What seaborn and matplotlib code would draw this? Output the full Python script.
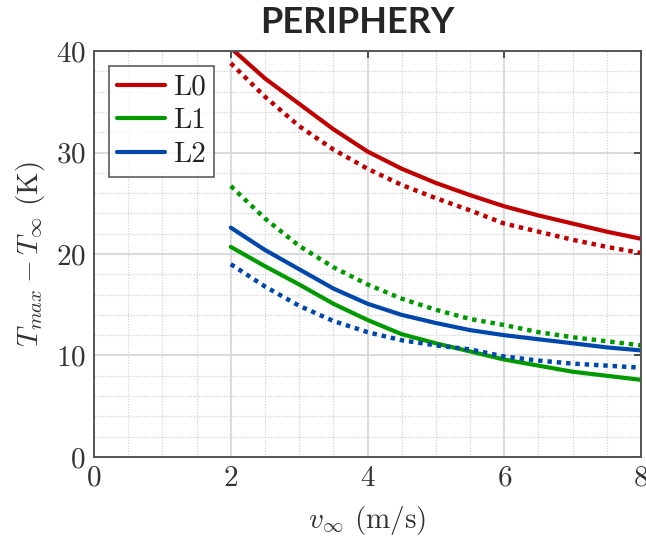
import matplotlib
matplotlib.use("Agg")
import matplotlib.pyplot as plt
from matplotlib.ticker import MultipleLocator
from matplotlib.lines import Line2D
import seaborn as sns

# air speed (m/s)
v = [2, 2.5, 3, 3.5, 4, 4.5, 5, 5.5, 6, 6.5, 7, 7.5, 8]

# T_max - T_inf (K), solid and dotted curves per level
l0_solid = [40.3, 37.3, 34.8, 32.3, 30.1, 28.4, 27.0, 25.8, 24.7, 23.8, 23.0, 22.2, 21.5]
l0_dot = [38.8, 35.5, 32.6, 30.3, 28.4, 26.8, 25.5, 24.3, 23.0, 22.2, 21.4, 20.7, 20.1]
l1_solid = [20.7, 18.8, 17.0, 15.1, 13.5, 12.1, 11.2, 10.4, 9.6, 9.0, 8.4, 8.0, 7.6]
l1_dot = [26.7, 23.5, 20.8, 18.7, 17.0, 15.6, 14.5, 13.6, 13.0, 12.3, 11.8, 11.4, 11.0]
l2_solid = [22.6, 20.4, 18.5, 16.6, 15.1, 14.0, 13.2, 12.5, 12.0, 11.6, 11.2, 10.8, 10.5]
l2_dot = [19.0, 16.8, 14.9, 13.4, 12.3, 11.5, 11.0, 10.6, 9.9, 9.5, 9.2, 9.0, 8.8]

levels = ["L0", "L1", "L2"]
colors = ["#c00000", "#009a00", "#0047ab"]

sns.set_style("white")
plt.rcParams["font.family"] = "serif"
plt.rcParams["font.serif"] = ["cmr10", "DejaVu Serif"]
plt.rcParams["mathtext.fontset"] = "cm"
plt.rcParams["axes.formatter.use_mathtext"] = True

fig = plt.figure(figsize=(6.46, 5.41), dpi=100)
ax = fig.add_axes([0.1455, 0.1553, 0.8468, 0.7504])

solids = [l0_solid, l1_solid, l2_solid]
dots = [l0_dot, l1_dot, l2_dot]
for name, col, ys, yd in zip(levels, colors, solids, dots):
    sns.lineplot(x=v, y=ys, color=col, lw=3, ax=ax)
    sns.lineplot(x=v, y=yd, color=col, lw=3.2, ax=ax,
                 linestyle=(0, (1, 1.1)))

ax.set_xlim(0, 8)
ax.set_ylim(0, 40)
ax.xaxis.set_major_locator(MultipleLocator(2))
ax.xaxis.set_minor_locator(MultipleLocator(0.5))
ax.yaxis.set_major_locator(MultipleLocator(10))
ax.yaxis.set_minor_locator(MultipleLocator(2))
ax.set_xticklabels([f"${int(t)}$" for t in ax.get_xticks()])
ax.set_yticklabels([f"${int(t)}$" for t in ax.get_yticks()])

ax.grid(True, which="major", color="#d4d4d4", lw=1.2)
ax.grid(True, which="minor", color="#d2d2d2", lw=0.9, ls=(0, (1, 1.2)))
ax.set_axisbelow(True)
for s in ax.spines.values():
    s.set_color("#555555")
    s.set_linewidth(1.4)
ax.tick_params(which="major", direction="in", length=5, width=1.2,
               top=True, right=True, labelsize=21, colors="#333333", pad=6)
ax.tick_params(which="minor", length=0)

ax.set_xlabel(r"$v_\infty$ (m/s)", fontsize=21, color="#333333", labelpad=9)
ax.set_ylabel(r"$T_{max} - T_\infty$ (K)", fontsize=21, color="#333333", labelpad=6)

handles = [Line2D([], [], color=c, lw=3) for c in colors]
leg = ax.legend(handles, levels, loc="upper left", fontsize=21,
                frameon=True, fancybox=False, edgecolor="#333333",
                handlelength=1.65, handletextpad=0.25, labelspacing=0.25,
                borderpad=0.3, borderaxespad=0.5)
leg.get_frame().set_linewidth(1.2)
for t in leg.get_texts():
    t.set_color("#222222")

fig.text(0.553, 0.958, "PERIPHERY", fontsize=26, fontweight="bold",
         family="Lato", ha="center", va="center")

fig.savefig("out.png", dpi=100)
